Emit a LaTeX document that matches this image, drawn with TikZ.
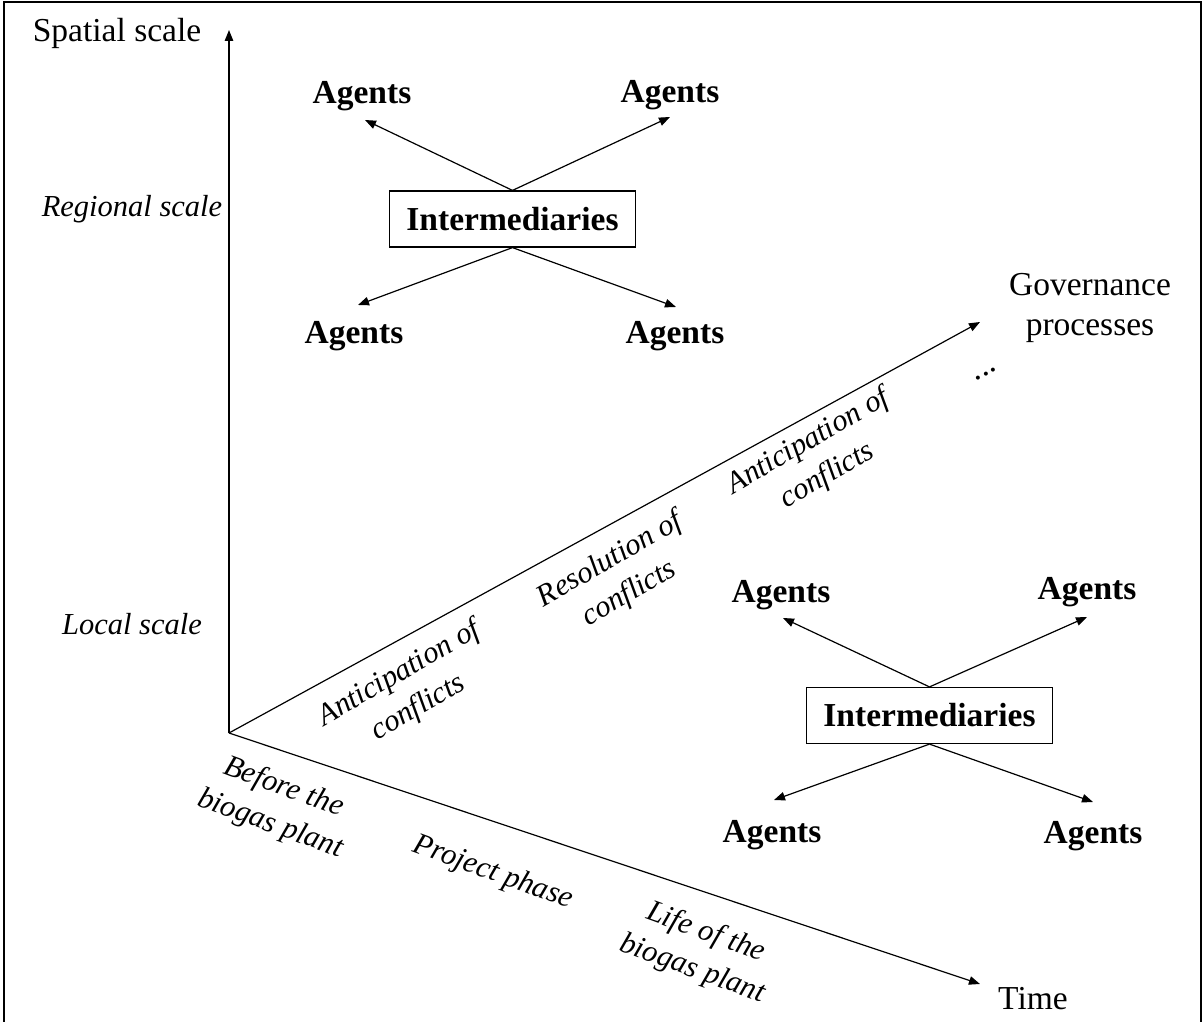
\documentclass[tikz,border=0pt]{standalone}
\usepackage{fontspec}
\setmainfont{Liberation Serif}
\usetikzlibrary{arrows.meta}
\begin{document}
\begin{tikzpicture}[x=1pt,y=-1pt,
  arr/.style={line width=1.2pt, -{Triangle[length=11pt,width=8.5pt]}},
  agent/.style={font=\fontsize{33.5}{38}\selectfont\bfseries, inner sep=0pt},
  interbox/.style={draw, line width=1.2pt, font=\fontsize{33.5}{38}\selectfont\bfseries, minimum width=246pt, minimum height=56pt, inner sep=0pt},
  lbl/.style={font=\fontsize{33.5}{40}\selectfont, inner sep=0pt, align=center},
  ital/.style={font=\fontsize{30.5}{39}\selectfont\itshape, inner sep=0pt, align=center},
]
\useasboundingbox (0,0) rectangle (1203,1022);
\draw[line width=1.2pt] (4,1022) -- (4,2) -- (1201,2) -- (1201,1022);

% axes
\coordinate (O) at (229,733);
\coordinate (ytip) at (229,30);
\coordinate (gtip) at (980,322);
\coordinate (ttip) at (980,984);
\draw[arr] (O) -- (ytip);
\draw[arr] (O) -- (gtip);
\draw[arr] (O) -- (ttip);

% axis labels
\node[lbl, anchor=base] (spatial) at (117,42) {Spatial scale};
\node[ital, anchor=base] (regional) at (132,217) {Regional scale};
\node[ital, anchor=base] (local) at (132,634) {Local scale};
\node[lbl] (gov) at (1090,308) {Governance\\processes};
\node[lbl, anchor=base] (time) at (1033,1009) {Time};
\node[lbl, rotate=30] (dots) at (986,374) {...};

% governance process labels
\node[ital, rotate=30] (ant1) at (409,691) {Anticipation of\\conflicts};
\node[ital, rotate=30] (res) at (620,577) {Resolution of\\conflicts};
\node[ital, rotate=30] (ant2) at (818,459) {Anticipation of\\conflicts};

% time labels
\node[ital, rotate=-20] (before) at (277,806) {Before the\\biogas plant};
\node[ital, rotate=-20] (project) at (493,873) {Project phase};
\node[ital, rotate=-20] (life) at (699,951) {Life of the\\biogas plant};

% regional cluster
\node[interbox] (i1) at (512.5,219) {Intermediaries};
\node[agent] (a1) at (362,96) {Agents};
\node[agent] (a2) at (670,95) {Agents};
\node[agent] (a3) at (354,336) {Agents};
\node[agent] (a4) at (675,336) {Agents};
\coordinate (t1) at (365,120);
\coordinate (t2) at (670,117);
\coordinate (t3) at (358,305);
\coordinate (t4) at (676,307);
\draw[arr] (i1.north) -- (t1);
\draw[arr] (i1.north) -- (t2);
\draw[arr] (i1.south) -- (t3);
\draw[arr] (i1.south) -- (t4);

% local cluster
\node[interbox] (i2) at (929.5,715.5) {Intermediaries};
\node[agent] (b1) at (781,595) {Agents};
\node[agent] (b2) at (1087,592) {Agents};
\node[agent] (b3) at (772,835) {Agents};
\node[agent] (b4) at (1093,836) {Agents};
\coordinate (s1) at (783,618);
\coordinate (s2) at (1087,617);
\coordinate (s3) at (774,800);
\coordinate (s4) at (1093,802);
\draw[arr] (i2.north) -- (s1);
\draw[arr] (i2.north) -- (s2);
\draw[arr] (i2.south) -- (s3);
\draw[arr] (i2.south) -- (s4);
\end{tikzpicture}
\end{document}
